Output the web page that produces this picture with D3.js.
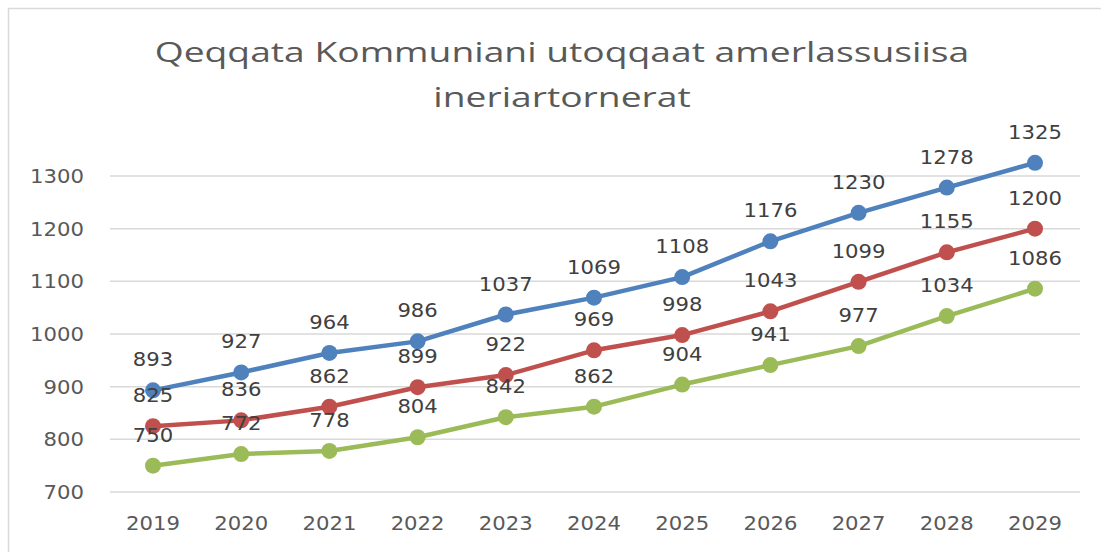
<!DOCTYPE html>
<html>
<head>
<meta charset="utf-8">
<script src="https://cdn.jsdelivr.net/npm/d3@7"></script>
<style>
  body { margin: 0; background: #fff; }
  svg text { fill: #595959; }
</style>
</head>
<body>
<div id="chart"></div>
<script>
// Data
const years = [2019, 2020, 2021, 2022, 2023, 2024, 2025, 2026, 2027, 2028, 2029];
const seriesBlue = [893, 927, 964, 986, 1037, 1069, 1108, 1176, 1230, 1278, 1325];
const seriesRed = [825, 836, 862, 899, 922, 969, 998, 1043, 1099, 1155, 1200];
const seriesGreen = [750, 772, 778, 804, 842, 862, 904, 941, 977, 1034, 1086];
const yTicks = [700, 800, 900, 1000, 1100, 1200, 1300];
const titleLines = ['Qeqqata Kommuniani utoqqaat amerlassusiisa', 'ineriartornerat'];

const W = 1101, H = 552;
const plot = { left: 110, right: 1080, top: 176, bottom: 492 };
const numFont = 'DejaVu Sans, Verdana, sans-serif';
const stretch = 1.06; // the reference is slightly wider than it is tall

const svg = d3.select('#chart').append('svg')
    .attr('width', W)
    .attr('height', H);

// chart frame
svg.append('rect')
    .attr('x', 8.5).attr('y', 8.5)
    .attr('width', W + 20).attr('height', H + 20)
    .attr('fill', 'none')
    .attr('stroke', '#d9d9d9')
    .attr('stroke-width', 1.5);

const x = d3.scalePoint()
    .domain(years)
    .range([153, 1035]);

const y = d3.scaleLinear()
    .domain([700, 1300])
    .range([plot.bottom, plot.top]);

// grid lines
svg.append('g')
    .selectAll('line')
    .data(yTicks)
    .enter()
    .append('line')
    .attr('x1', plot.left)
    .attr('x2', plot.right)
    .attr('y1', d => y(d))
    .attr('y2', d => y(d))
    .attr('stroke', '#d9d9d9')
    .attr('stroke-width', 1.5);

// y labels
svg.append('g')
    .selectAll('text')
    .data(yTicks)
    .enter()
    .append('text')
    .attr('transform', d => `translate(84,${y(d) + 7}) scale(${stretch},1)`)
    .attr('text-anchor', 'end')
    .style('font-family', numFont)
    .style('font-size', '20px')
    .text(d => d);

// x labels
svg.append('g')
    .selectAll('text')
    .data(years)
    .enter()
    .append('text')
    .attr('transform', d => `translate(${x(d)},530) scale(${stretch},1)`)
    .attr('text-anchor', 'middle')
    .style('font-family', numFont)
    .style('font-size', '20px')
    .text(d => d);

// title
svg.append('g')
    .selectAll('text')
    .data(titleLines)
    .enter()
    .append('text')
    .attr('transform', (d, i) => `translate(562,${62 + i * 45}) scale(1.33,1)`)
    .attr('text-anchor', 'middle')
    .style('font-family', 'Open Sans, Calibri, sans-serif')
    .style('font-size', '28px')
    .text(d => d);

const series = [
    { values: seriesBlue, color: '#4f81bd' },
    { values: seriesRed, color: '#c0504d' },
    { values: seriesGreen, color: '#9bbb59' }
];

const line = d3.line()
    .x((d, i) => x(years[i]))
    .y(d => y(d));

// draw bottom series first so blue is on top
series.slice().reverse().forEach(s => {
    const g = svg.append('g');
    g.append('path')
        .datum(s.values)
        .attr('d', line)
        .attr('fill', 'none')
        .attr('stroke', s.color)
        .attr('stroke-width', 4.5)
        .attr('stroke-linejoin', 'round');

    g.selectAll('circle')
        .data(s.values)
        .enter()
        .append('circle')
        .attr('cx', (d, i) => x(years[i]))
        .attr('cy', d => y(d))
        .attr('r', 8)
        .attr('fill', s.color);
});

// value labels above points
series.forEach(s => {
    svg.append('g')
        .selectAll('text')
        .data(s.values)
        .enter()
        .append('text')
        .attr('transform', (d, i) => `translate(${x(years[i])},${y(d) - 24}) scale(${stretch},1)`)
        .attr('text-anchor', 'middle')
        .style('font-family', numFont)
        .style('font-size', '20px')
        .style('fill', '#404040')
        .text(d => d);
});
</script>
</body>
</html>
